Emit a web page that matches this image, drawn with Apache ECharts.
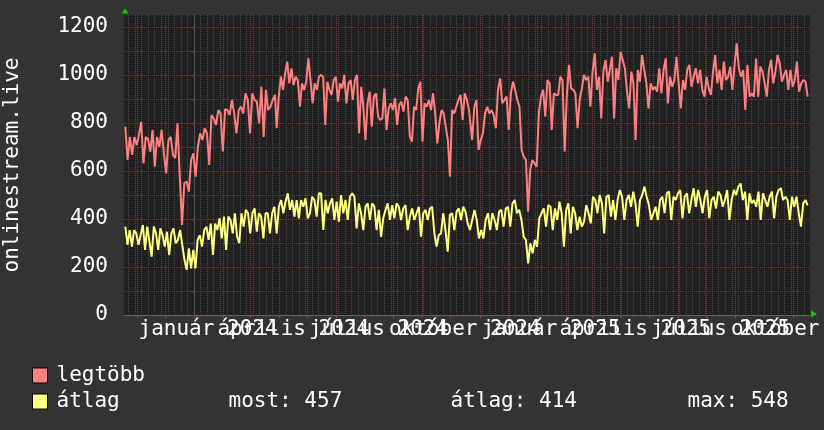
<!DOCTYPE html>
<html><head><meta charset="utf-8">
<script src="https://cdn.jsdelivr.net/npm/echarts@6/dist/echarts.min.js"></script>
<style>html,body{margin:0;padding:0;background:#333333;}#c{width:824px;height:430px;}</style>
</head><body><div id="c"></div>
<script>
// x values are day offsets relative to 2024-01-01
const xMinDay = -74.7, xMaxDay = 657.4;
const labelDays = [15, 106, 197, 289, 381, 471, 562, 654];
const labelTexts = ['január 2024','április 2024','július 2024','október 2024','január 2025','április 2025','július 2025','október 2025'];
const monthDays = [-61,-31,0,31,60,91,121,152,182,213,244,274,305,335,366,397,425,456,486,517,547,578,609,639];
const weekDays = [];
for (let d = -70; d <= 657; d += 7) weekDays.push(d);
const yLabelValues = [0,200,400,600,800,1000,1200];
const yGridValues = [0,100,200,300,400,500,600,700,800,900,1000,1100,1200];

const seriesNames = ['legtöbb','átlag'];
const statNames = ['most','átlag','max'];
const statValues = [457, 414, 548];

// sampled segments (start / end day of each run of samples)
const maxSegFrom = [-73.28, 88.22, 294.56];
const maxSegTo   = [86.45, 293.49, 654.93];
const avgSegFrom = [-73.28, 88.22, 294.56];
const avgSegTo   = [85.73, 292.07, 654.93];

const maxVals1 = [785,646,742,667,742,708,750,805,632,742,
733,681,771,618,742,701,771,674,590,729,
742,667,653,799,576,375,549,556,514,646,
674,576,701,757,729,778,757,625,833,819,
792,854,840,681,858,854,833,896,840,757,
854,868,840,924,896,757,924,896,889,799,
951,742,938,854,868,896,917];
const maxVals2 = [778,910,993,938,1007,1056,965,1028,958,993,
979,868,965,938,972,1069,979,882,965,938,
993,1000,993,792,972,938,917,979,993,889,
965,944,1000,882,965,979,896,979,1000,757,
951,868,729,882,931,785,910,924,826,813,
819,944,771,861,882,854,903,792,875,889,
847,910,896,743,722,868,854,944,972,722,
882,868,896,854,924,840,715,799,854,840,
785,729,576,854,840,868,896,917,813,924,
896,854];
const maxVals3 = [854,729,868,896,688,729,757,840,868,840,
854,833,778,938,986,882,896,910,771,924,
972,938,896,868,688,660,646,430,604,646,
632,618,840,910,938,826,979,965,771,924,
917,917,993,979,681,910,1042,944,938,924,
778,896,944,1000,979,993,868,1014,1090,938,
993,819,1014,1063,972,1021,1076,819,1028,979,
1097,1063,1028,931,861,1014,965,729,1021,972,
1083,1021,965,861,965,938,951,931,1028,924,
1021,1069,882,993,951,979,1076,965,861,979,
938,1021,1042,951,993,1028,965,1021,938,910,
993,944,917,1014,1083,965,1021,938,1056,979,
993,1035,938,1042,1132,1028,993,1021,854,1042,
910,924,910,1069,910,1035,1014,965,910,1021,
1063,965,1014,1083,1049,972,1000,1021,938,1021,
951,979,1056,931,965,979,972,910];

const avgVals1 = [368,292,354,285,354,340,292,333,375,271,
368,306,243,368,340,271,361,333,285,347,
250,340,361,299,313,354,292,229,188,278,
194,271,194,313,333,285,354,368,313,381,
250,381,354,403,319,410,271,410,396,340,
424,326,299,424,368,438,424,340,424,444,
347,424,410,319,424,424,340,424,451];
const avgVals2 = [340,451,479,424,472,507,438,479,410,479,
403,479,451,486,403,424,493,479,410,507,
507,354,479,424,465,486,396,472,389,500,
424,479,396,493,507,493,361,465,424,354,
451,465,396,465,451,354,438,326,403,438,
465,396,458,403,465,451,396,444,458,354,
410,444,396,424,451,326,424,438,396,444,
451,340,285,333,340,424,354,264,417,424,
354,431,444,396,451,431,382];
const avgVals3 = [354,396,438,396,319,354,319,396,424,354,
424,396,354,431,438,368,444,451,368,465,
479,424,438,396,326,313,215,299,257,313,
285,403,424,444,368,458,451,354,444,396,
472,424,285,438,465,340,451,424,354,410,
368,389,458,424,382,493,479,424,500,465,
340,493,500,410,479,396,479,521,493,396,
479,500,451,514,465,368,479,500,535,493,
458,396,424,451,396,479,493,424,507,514,
396,493,479,507,521,403,493,507,424,479,
528,451,521,479,424,493,521,403,479,493,
444,514,500,451,479,521,396,479,521,500,
535,548,479,514,396,507,465,479,451,514,
396,507,479,451,493,514,403,493,521,528,
479,493,479,396,493,451,493,424,368,465,
479,457];

function build(segs, from, to) {
  const out = [];
  segs.forEach((vals, k) => {
    const n = vals.length;
    vals.forEach((v, i) => out.push([from[k] + (to[k] - from[k]) * i / (n - 1), v]));
  });
  return out;
}
const maxData = build([maxVals1, maxVals2, maxVals3], maxSegFrom, maxSegTo);
const avgData = build([avgVals1, avgVals2, avgVals3], avgSegFrom, avgSegTo);

const FONT = "'DejaVu Sans Mono', monospace";
const TXT = '#ffffff';
const RED = '#ff8080', YEL = '#ffff80';
const MAJOR = '#7a3a3a', MINOR = '#4a4a4a';

// labels split into two non-overlapping sets so none gets auto-hidden
const labelDaysEven = labelDays.filter((_, i) => i % 2 === 0);
const labelDaysOdd = labelDays.filter((_, i) => i % 2 === 1);
const labelFmt = v => { const i = labelDays.indexOf(v); return i >= 0 ? labelTexts[i] : ''; };
function labelAxis(values) {
  return {
    type: 'value', min: xMinDay, max: xMaxDay, position: 'bottom',
    axisLine: {show: false}, axisTick: {show: false}, splitLine: {show: false},
    axisLabel: {customValues: values, color: TXT, fontFamily: FONT, fontSize: 21, margin: 4,
      showMinLabel: true, showMaxLabel: true, hideOverlap: false, formatter: labelFmt}
  };
}

const chart = echarts.init(document.getElementById('c'), null, {renderer: 'canvas'});
chart.setOption({
  backgroundColor: '#333333',
  animation: false,
  grid: {left: 124, right: 14, top: 15, bottom: 115, show: true, backgroundColor: '#212121', borderWidth: 0, outerBoundsMode: 'none', containLabel: false},
  xAxis: [
    {
      type: 'value', min: xMinDay, max: xMaxDay, position: 'bottom',
      axisLine: {show: true, onZero: false, lineStyle: {color: '#666666', width: 1}},
      axisTick: {show: true, customValues: monthDays, length: 3, lineStyle: {color: '#a04040'}},
      splitLine: {show: true, lineStyle: {color: MAJOR, type: 'dotted', width: 1}},
      axisLabel: {show: false}
    },
    {
      type: 'value', min: xMinDay, max: xMaxDay, position: 'bottom',
      axisLine: {show: false}, axisLabel: {show: false},
      axisTick: {show: false, customValues: weekDays},
      splitLine: {show: true, lineStyle: {color: MINOR, type: 'dotted', width: 1}}
    },
    labelAxis(labelDaysEven),
    labelAxis(labelDaysOdd)
  ],
  yAxis: {
    type: 'value', min: 0, max: 1250, interval: 100,
    name: 'onlinestream.live', nameLocation: 'middle', nameGap: 101, nameRotate: 90,
    nameTextStyle: {color: TXT, fontFamily: FONT, fontSize: 21},
    axisLine: {show: true, lineStyle: {color: '#555555'}},
    axisTick: {show: true, length: 3, customValues: yGridValues, lineStyle: {color: '#555555'}},
    axisLabel: {customValues: yLabelValues, color: TXT, fontFamily: FONT, fontSize: 21, margin: 16,
      showMinLabel: true, showMaxLabel: true, formatter: v => String(v)},
    splitLine: {show: true, lineStyle: {color: [MAJOR, MINOR], type: 'dotted', width: 1}}
  },
  legend: {
    orient: 'vertical', left: 32, top: 365, padding: 0, itemWidth: 15, itemHeight: 15, itemGap: 5,
    selectedMode: false, icon: 'rect',
    textStyle: {color: TXT, fontFamily: FONT, fontSize: 21, lineHeight: 15, padding: [0, 0, 0, 4],
      rich: {
        n: {width: 172, color: TXT, fontFamily: FONT, fontSize: 21, lineHeight: 15},
        a: {width: 222, color: TXT, fontFamily: FONT, fontSize: 21, lineHeight: 15},
        b: {width: 237, color: TXT, fontFamily: FONT, fontSize: 21, lineHeight: 15},
        c: {color: TXT, fontFamily: FONT, fontSize: 21, lineHeight: 15}
      }},
    formatter: name => name === seriesNames[1]
      ? `{n|${name}}{a|${statNames[0]}: ${statValues[0]}}{b|${statNames[1]}: ${statValues[1]}}{c|${statNames[2]}: ${statValues[2]}}`
      : `{n|${name}}`,
    data: [
      {name: seriesNames[0], itemStyle: {color: RED, borderColor: '#000', borderWidth: 1}},
      {name: seriesNames[1], itemStyle: {color: YEL, borderColor: '#000', borderWidth: 1}}
    ]
  },
  series: [
    {name: seriesNames[0], type: 'line', data: maxData, showSymbol: false, symbol: 'none',
     lineStyle: {color: RED, width: 2}, itemStyle: {color: RED}, z: 3},
    {name: seriesNames[1], type: 'line', data: avgData, showSymbol: false, symbol: 'none',
     lineStyle: {color: YEL, width: 2}, itemStyle: {color: YEL}, z: 3}
  ],
  graphic: [
    {type: 'polygon', shape: {points: [[125, 8.5], [121.5, 13.5], [128.5, 13.5]]}, style: {fill: '#00cc00'}},
    {type: 'polygon', shape: {points: [[811, 310.5], [811, 317.5], [817, 314]]}, style: {fill: '#00cc00'}}
  ]
});
</script></body></html>
